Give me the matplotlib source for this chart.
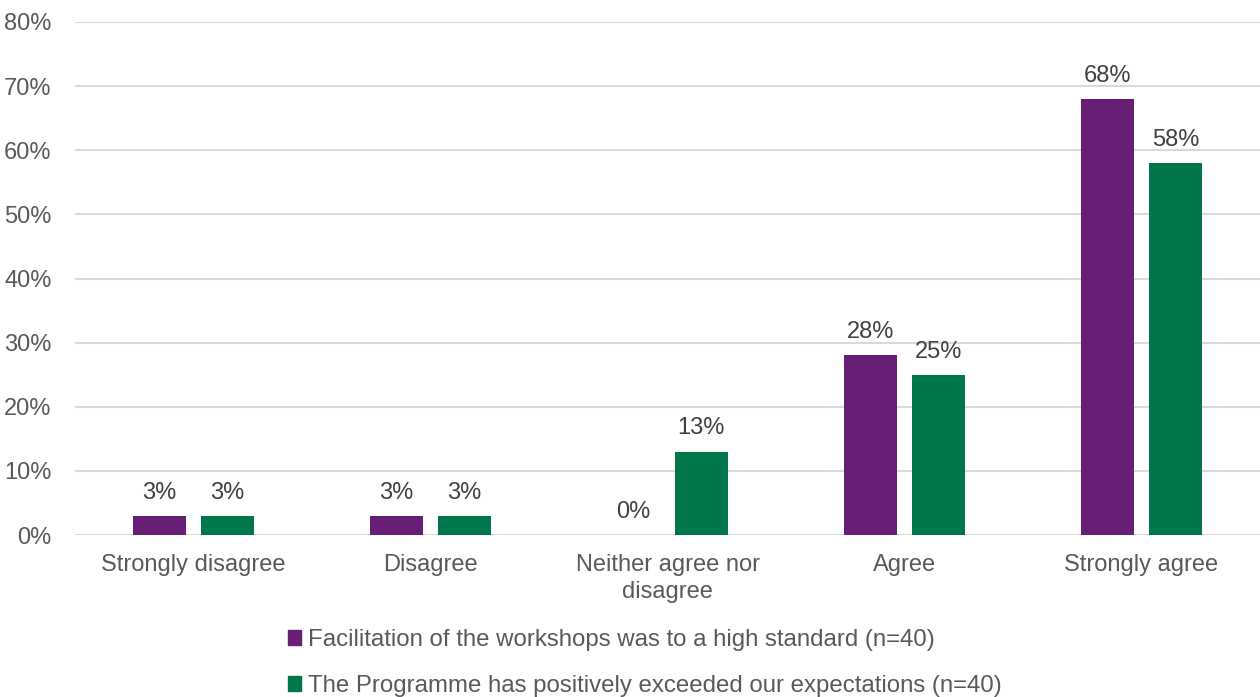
import numpy as np
import matplotlib.pyplot as plt
from matplotlib.patches import Patch

plt.rcParams['font.family'] = ['Liberation Sans', 'DejaVu Sans']

categories = ['Strongly disagree', 'Disagree', 'Neither agree nor\ndisagree', 'Agree', 'Strongly agree']
facilitation = [3, 3, 0, 28, 68]
programme = [3, 3, 13, 25, 58]
series_names = ['Facilitation of the workshops was to a high standard (n=40)',
                'The Programme has positively exceeded our expectations (n=40)']
colors = ['#671E75', '#00774A']

fig = plt.figure(figsize=(12.6, 6.97), dpi=100)
ax = fig.add_axes([75 / 1260, 1 - 535 / 697, 1 - 75 / 1260, (535 - 22) / 697])

x = np.arange(len(categories))
w = 0.224
off = 0.143
for vals, dx, c in [(facilitation, -off, colors[0]), (programme, off, colors[1])]:
    bars = ax.bar(x + dx, vals, width=w, color=c, zorder=3)
    for b, v in zip(bars, vals):
        ax.text(b.get_x() + b.get_width() / 2, v + 1.9, f'{v}%', ha='center', va='bottom',
                fontsize=17, color='#404040')

ax.set_xlim(-0.5, len(categories) - 0.5)
ax.set_ylim(0, 80)
ax.set_yticks(range(0, 81, 10))
ax.set_yticklabels([f'{t}%' for t in range(0, 81, 10)])
ax.yaxis.grid(True, color='#d9d9d9', lw=1.5, zorder=0)
ax.set_xticks(x)
ax.set_xticklabels(categories, linespacing=1.25)
ax.tick_params(axis='both', length=0, labelsize=17, labelcolor='#595959')
ax.tick_params(axis='y', pad=17)
ax.tick_params(axis='x', pad=14)
for s in ax.spines.values():
    s.set_visible(False)

handles = [Patch(color=c) for c in colors]
fig.legend(handles, series_names, loc='upper left', bbox_to_anchor=(276 / 1260, 1 - 617 / 697),
           frameon=False, fontsize=17.3, labelcolor='#595959', handlelength=0.55, handleheight=0.55,
           handletextpad=0.3, labelspacing=1.0, borderpad=0)

fig.savefig('out.png', dpi=100)
